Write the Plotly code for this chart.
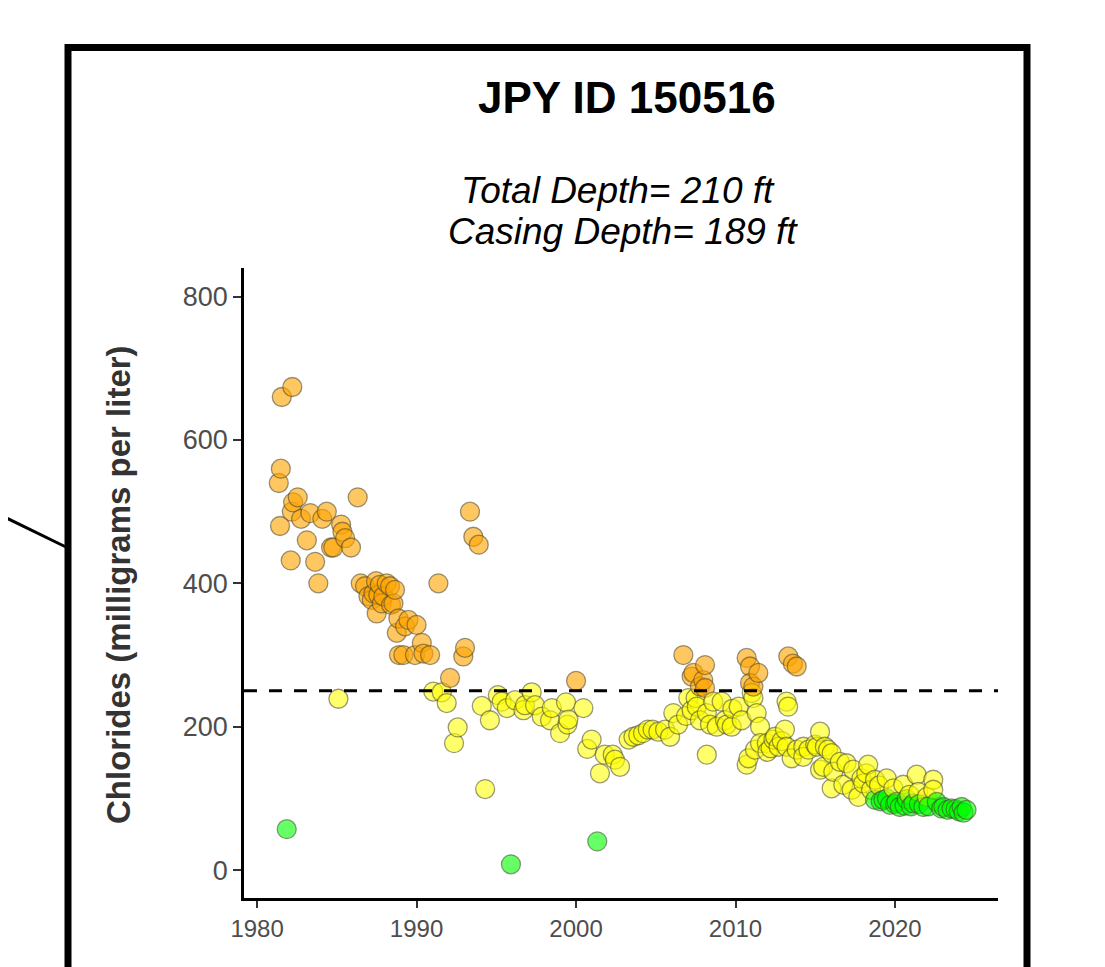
import plotly.graph_objects as go

# ---- data ----
years = [
    1981.36, 1981.44, 1981.49, 1981.55, 1981.86, 1982.11, 1982.18, 1982.21, 1982.26, 1982.55,
    1982.76, 1983.12, 1983.34, 1983.64, 1983.84, 1984.09, 1984.37, 1984.64, 1984.78, 1985.10,
    1985.27, 1985.35, 1985.52, 1985.89, 1986.31, 1986.50, 1986.77, 1986.98, 1987.19, 1987.30,
    1987.46, 1987.50, 1987.60, 1987.70, 1987.82, 1987.92, 1988.13, 1988.34, 1988.40, 1988.55,
    1988.65, 1988.76, 1988.86, 1988.90, 1989.17, 1989.28, 1989.49, 1989.90, 1990.00, 1990.33,
    1990.43, 1990.85, 1991.05, 1991.37, 1991.58, 1991.89, 1992.10, 1992.35, 1992.58, 1992.93,
    1993.04, 1993.35, 1993.56, 1993.90, 1994.09, 1994.30, 1994.60, 1995.10, 1995.34, 1995.66,
    1995.92, 1996.18, 1996.70, 1996.80, 1997.22, 1997.43, 1997.85, 1998.37, 1998.48, 1999.00,
    1999.37, 1999.46, 1999.52, 2000.00, 2000.46, 2000.70, 2000.98, 2001.33, 2001.50, 2001.80,
    2002.30, 2002.44, 2002.76, 2003.30, 2003.60, 2003.90, 2004.20, 2004.50, 2004.80, 2005.16,
    2005.58, 2005.90, 2006.10, 2006.40, 2006.73, 2006.90, 2007.04, 2007.25, 2007.25, 2007.36,
    2007.50, 2007.57, 2007.77, 2007.77, 2007.98, 2008.09, 2008.09, 2008.20, 2008.20, 2008.40,
    2008.60, 2008.82, 2009.13, 2009.34, 2009.45, 2009.76, 2009.80, 2010.20, 2010.39, 2010.70,
    2010.70, 2010.81, 2010.91, 2010.91, 2011.02, 2011.12, 2011.12, 2011.22, 2011.33, 2011.43,
    2011.54, 2011.54, 2011.96, 2012.00, 2012.20, 2012.38, 2012.48, 2012.70, 2012.90, 2013.10,
    2013.20, 2013.20, 2013.30, 2013.31, 2013.52, 2013.60, 2013.84, 2013.84, 2014.25, 2014.25,
    2014.57, 2015.00, 2015.10, 2015.30, 2015.30, 2015.50, 2015.60, 2015.80, 2016.03, 2016.03,
    2016.13, 2016.54, 2016.76, 2016.96, 2017.28, 2017.38, 2017.70, 2017.90, 2018.01, 2018.20,
    2018.32, 2018.50, 2018.75, 2018.75, 2019.00, 2019.10, 2019.27, 2019.48, 2019.50, 2019.69,
    2019.90, 2020.00, 2020.10, 2020.30, 2020.52, 2020.60, 2020.74, 2020.90, 2021.00, 2021.15,
    2021.36, 2021.46, 2021.50, 2021.78, 2022.00, 2022.10, 2022.40, 2022.40, 2022.62, 2022.90,
    2023.04, 2023.30, 2023.55, 2023.80, 2024.00, 2024.18, 2024.30, 2024.49,
]
chlorides = [
    540, 480, 560, 660, 57, 432, 500, 674, 513, 520,
    490, 460, 498, 430, 400, 490, 500, 450, 450, 239,
    482, 472, 463, 450, 520, 400, 396, 382, 377, 386,
    403, 358, 384, 398, 372, 382, 400, 396, 370, 372,
    391, 331, 351, 300, 300, 340, 349, 300, 342, 317,
    302, 300, 249, 400, 248, 233, 268, 177, 199, 298,
    310, 500, 465, 454, 229, 113, 209, 244, 235, 226,
    8, 237, 223, 230, 248, 230, 214, 209, 226, 191,
    234, 203, 210, 264, 226, 169, 182, 40, 135, 161,
    161, 154, 144, 182, 186, 188, 191, 196, 196, 193,
    196, 186, 219, 203, 300, 215, 240, 223, 270, 275,
    240, 228, 209, 256, 265, 286, 254, 219, 161, 203,
    235, 200, 235, 209, 203, 200, 225, 228, 209, 296,
    147, 156, 284, 261, 247, 240, 256, 168, 219, 275,
    200, 177, 177, 165, 170, 182, 186, 172, 180, 196,
    235, 172, 228, 298, 156, 288, 284, 168, 172, 158,
    168, 175, 172, 193, 140, 144, 172, 168, 163, 114,
    137, 151, 119, 149, 112, 140, 102, 128, 121, 135,
    147, 112, 126, 98, 118, 96, 98, 128, 100, 91,
    114, 92, 95, 88, 119, 90, 99, 105, 89, 93,
    133, 109, 92, 88, 102, 89, 126, 112, 95, 86,
    88, 84, 86, 85, 82, 88, 80, 84,
]

x_ticks = [1980, 1990, 2000, 2010, 2020]
y_ticks = [0, 200, 400, 600, 800]
standard = 250

title_text = "<b>JPY ID 150516</b>"
subtitle_line1 = "<i>Total Depth= 210 ft</i>"
subtitle_line2 = "<i>Casing Depth= 189 ft</i>"
y_title = "<b>Chlorides (milligrams per liter)</b>"


def fill_for(v):
    if v > 250:
        return "rgba(255,165,0,0.62)"
    if v > 100:
        return "rgba(255,255,0,0.58)"
    return "rgba(0,255,0,0.6)"


colors = [fill_for(v) for v in chlorides]

FONT = "Liberation Sans, Arial, sans-serif"

fig = go.Figure()
fig.add_trace(go.Scatter(
    x=years, y=chlorides, mode="markers",
    marker=dict(size=19, color=colors,
                line=dict(color="rgba(70,70,50,0.55)", width=1.3)),
    showlegend=False, hoverinfo="x+y",
))

W, H = 1105, 967
OFF = 8  # page body margin of the html output
PL, PR, PT, PB = 244, 998, 268, 898  # target plot area on the page
L, T = PL - OFF, PT - OFF
R, B = W - (PR - OFF), H - (PB - OFF)
pw, ph = PR - PL, PB - PT


def px(xp):
    return (xp - PL) / pw


def py(yp):
    return (PB - yp) / ph


fig.update_layout(
    width=W, height=H,
    margin=dict(l=L, r=R, t=T, b=B, pad=0),
    paper_bgcolor="white", plot_bgcolor="white",
    font=dict(family=FONT, color="#4d4d4d"),
    xaxis=dict(range=[1979.18, 2026.46], tickvals=x_ticks, showgrid=False, zeroline=False,
               showline=True, linecolor="black", linewidth=2.5, ticks="outside",
               ticklen=7, tickwidth=2, tickcolor="#333333",
               tickfont=dict(size=24, color="#4d4d4d", family=FONT)),
    yaxis=dict(range=[-39, 840], tickvals=y_ticks, showgrid=False, zeroline=False,
               showline=True, linecolor="black", linewidth=2.5, ticks="outside",
               ticklen=8, tickwidth=2, tickcolor="#333333",
               tickfont=dict(size=27, color="#4d4d4d", family=FONT)),
    shapes=[
        dict(type="line", xref="paper", yref="y", x0=0, x1=1, y0=standard, y1=standard,
             line=dict(color="black", width=3, dash="13px,12px")),
        dict(type="rect", xref="paper", yref="paper",
             x0=px(68), x1=px(1027), y0=py(1000), y1=py(47.5),
             line=dict(color="black", width=7), fillcolor="rgba(0,0,0,0)"),
        dict(type="line", xref="paper", yref="paper",
             x0=px(-10), y0=py(510), x1=px(68), y1=py(548),
             line=dict(color="black", width=3)),
    ],
    annotations=[
        dict(text=title_text, xref="paper", yref="paper", x=px(627), y=py(97),
             xanchor="center", yanchor="middle", showarrow=False,
             font=dict(size=44, color="black", family=FONT)),
        dict(text=subtitle_line1, xref="paper", yref="paper", x=px(618), y=py(190),
             xanchor="center", yanchor="middle", showarrow=False,
             font=dict(size=37, color="black", family=FONT)),
        dict(text=subtitle_line2, xref="paper", yref="paper", x=px(623), y=py(231),
             xanchor="center", yanchor="middle", showarrow=False,
             font=dict(size=37, color="black", family=FONT)),
        dict(text=y_title, xref="paper", yref="paper", x=px(118), y=py(585),
             xanchor="center", yanchor="middle", showarrow=False, textangle=-90,
             font=dict(size=33, color="#333333", family=FONT)),
    ],
)

fig.write_html("out.html")
